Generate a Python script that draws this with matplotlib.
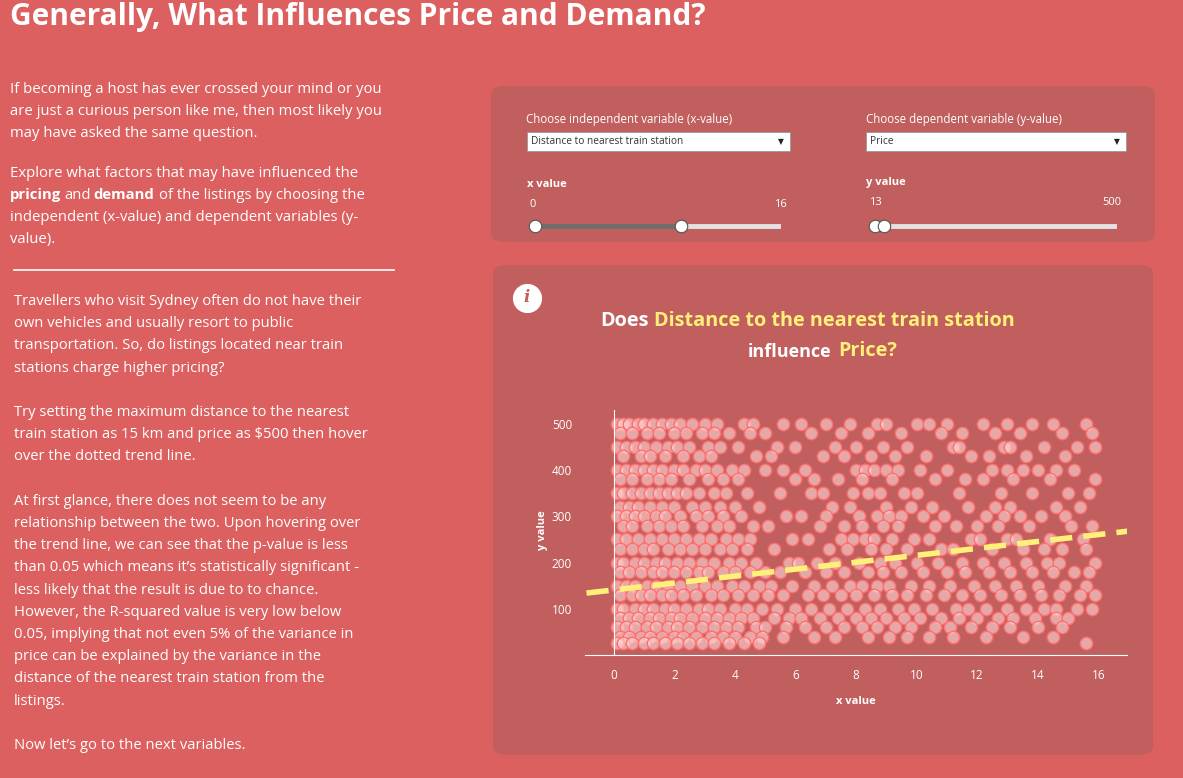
import matplotlib.pyplot as plt
from matplotlib.patches import FancyBboxPatch, Rectangle

plt.rcParams['font.family'] = ['Open Sans', 'DejaVu Sans']

# listings: price level -> distances (km)
price_levels = [500, 480, 450, 430, 400, 380, 350, 320, 300, 280, 250, 230,
                200, 180, 150, 130, 100, 80, 60, 40, 25]
distances = [
    [0.1, 0.3, 0.5, 0.8, 1.0, 1.3, 1.6, 1.9, 2.2, 2.6, 3.0, 3.4, 4.3, 4.6, 5.6, 6.2, 7.0, 7.8, 8.7, 9.0, 10.0, 10.4, 11.0, 12.2, 13.0, 13.8, 14.5, 15.6],
    [0.2, 0.6, 1.1, 1.5, 2.0, 2.4, 2.9, 3.3, 3.8, 4.5, 5.0, 6.5, 7.5, 8.4, 9.5, 10.8, 11.5, 12.6, 13.4, 14.8, 15.8],
    [0.1, 0.4, 0.7, 1.0, 1.4, 1.8, 2.1, 2.5, 3.1, 3.5, 4.1, 5.4, 6.0, 7.3, 8.0, 8.9, 9.7, 11.2, 11.4, 12.9, 13.1, 14.2, 15.3, 15.9],
    [0.3, 0.9, 1.2, 1.7, 2.3, 2.8, 3.2, 4.7, 5.2, 6.9, 7.6, 8.5, 9.3, 10.3, 11.8, 12.4, 13.6, 14.9],
    [0.1, 0.4, 0.7, 1.0, 1.3, 1.6, 2.0, 2.3, 2.7, 3.0, 3.4, 3.9, 4.3, 5.0, 5.6, 6.3, 8.0, 8.3, 8.6, 9.0, 9.4, 10.1, 11.0, 12.5, 13.0, 13.5, 14.0, 14.6, 15.2],
    [0.2, 0.6, 1.1, 1.5, 1.9, 2.5, 3.1, 3.6, 4.1, 6.0, 6.6, 7.4, 8.2, 9.2, 10.6, 11.6, 12.2, 13.2, 14.4, 15.9],
    [0.1, 0.3, 0.6, 0.9, 1.2, 1.5, 1.8, 2.1, 2.4, 2.8, 3.3, 3.7, 4.4, 5.5, 6.5, 6.9, 7.9, 8.4, 8.8, 9.6, 10.0, 11.4, 12.8, 13.8, 15.0, 15.7],
    [0.2, 0.5, 0.8, 1.2, 1.6, 2.0, 2.6, 3.0, 3.5, 4.0, 4.8, 7.2, 7.8, 9.0, 9.8, 10.5, 11.7, 12.6, 13.1, 14.6, 15.4],
    [0.1, 0.4, 0.7, 1.0, 1.4, 1.7, 2.2, 2.7, 3.1, 3.6, 4.2, 5.7, 6.2, 7.0, 8.1, 8.7, 9.1, 9.5, 10.2, 10.9, 12.3, 12.9, 13.4, 14.1, 14.9],
    [0.3, 0.6, 1.1, 1.5, 1.9, 2.3, 2.9, 3.4, 3.8, 4.6, 5.1, 6.8, 7.6, 8.2, 8.9, 9.4, 10.6, 11.3, 12.0, 12.7, 13.7, 15.1, 15.8],
    [0.1, 0.4, 0.8, 1.2, 1.6, 2.0, 2.4, 2.8, 3.2, 3.7, 4.1, 4.5, 5.9, 6.4, 7.5, 7.9, 8.3, 8.6, 9.2, 9.9, 10.4, 11.8, 12.1, 13.0, 13.3, 14.4, 15.5],
    [0.2, 0.6, 1.0, 1.3, 1.8, 2.2, 2.6, 3.0, 3.5, 3.9, 4.4, 5.3, 7.1, 7.7, 8.5, 9.0, 9.7, 10.8, 11.2, 12.5, 13.5, 14.2, 14.8, 15.6],
    [0.1, 0.3, 0.7, 1.0, 1.4, 1.7, 2.1, 2.5, 2.9, 3.3, 3.8, 4.2, 4.7, 5.8, 6.1, 6.7, 7.3, 8.1, 8.8, 9.3, 10.0, 10.7, 11.5, 12.2, 12.9, 13.6, 14.3, 14.7, 15.9],
    [0.2, 0.5, 0.9, 1.3, 1.6, 2.0, 2.4, 2.8, 3.1, 3.6, 4.0, 4.5, 5.0, 5.5, 6.3, 7.0, 7.6, 8.4, 8.9, 9.5, 10.2, 11.0, 11.6, 12.4, 13.1, 13.8, 14.5, 15.2, 15.7],
    [0.1, 0.4, 0.7, 1.1, 1.4, 1.8, 2.2, 2.6, 3.0, 3.4, 3.9, 4.3, 4.8, 5.2, 5.9, 6.6, 7.2, 7.8, 8.2, 8.7, 9.1, 9.8, 10.4, 11.1, 11.9, 12.6, 13.3, 14.0, 14.9, 15.6],
    [0.2, 0.6, 0.9, 1.2, 1.6, 1.9, 2.3, 2.7, 3.2, 3.6, 4.1, 4.6, 5.1, 5.6, 6.4, 6.9, 7.5, 8.0, 8.6, 9.2, 9.7, 10.3, 10.9, 11.5, 12.1, 12.8, 13.4, 14.1, 14.7, 15.4, 15.9],
    [0.1, 0.3, 0.7, 1.0, 1.3, 1.7, 2.0, 2.4, 2.8, 3.1, 3.5, 4.0, 4.4, 4.9, 5.4, 6.0, 6.5, 7.1, 7.7, 8.3, 8.8, 9.4, 9.9, 10.5, 11.3, 11.7, 12.3, 13.0, 13.6, 14.2, 14.6, 15.3, 15.8],
    [0.2, 0.5, 0.8, 1.2, 1.5, 1.9, 2.2, 2.6, 3.0, 3.4, 3.8, 4.2, 4.6, 5.3, 5.8, 6.2, 6.8, 7.4, 8.0, 8.5, 9.0, 9.6, 10.1, 10.8, 11.4, 12.0, 12.7, 13.2, 13.9, 14.6, 15.0],
    [0.1, 0.4, 0.7, 1.1, 1.4, 1.8, 2.1, 2.5, 2.9, 3.3, 3.7, 4.1, 4.7, 5.0, 5.7, 6.3, 7.0, 7.6, 8.2, 8.7, 9.3, 9.8, 10.6, 11.1, 11.8, 12.5, 13.1, 14.0, 14.8],
    [0.2, 0.5, 0.9, 1.2, 1.6, 2.0, 2.3, 2.7, 3.2, 3.6, 4.0, 4.5, 4.9, 5.6, 6.6, 7.3, 8.4, 9.1, 9.7, 10.4, 11.2, 12.3, 13.5, 14.5],
    [0.1, 0.3, 0.6, 1.0, 1.3, 1.7, 2.1, 2.5, 2.9, 3.3, 3.8, 4.3, 4.8, 15.6],
]
x_ticks = [0, 2, 4, 6, 8, 10, 12, 14, 16]
y_ticks = [100, 200, 300, 400, 500]
trend_x = [-0.9, 17.0]
trend_y = [134, 268]

xs, ys = [], []
for p, row in zip(price_levels, distances):
    xs.extend(row)
    ys.extend([p] * len(row))

bg = '#DC605F'
panel = '#C15E5E'
yel = '#FFF07A'
fig = plt.figure(figsize=(11.83, 7.78), dpi=100)
fig.patch.set_facecolor(bg)


def fx(x):
    return x / 1183


def fy(y):
    return 1 - y / 778


def box(x, y, w, h):
    # pixel coords from top-left
    fig.patches.append(FancyBboxPatch((fx(x), fy(y + h)), w / 1183, h / 778,
                                      boxstyle='round,pad=0,rounding_size=0.012',
                                      transform=fig.transFigure, facecolor=panel,
                                      edgecolor='none', zorder=-5))


def t(x, y, s, **kw):
    kw.setdefault('color', 'white')
    return fig.text(fx(x), fy(y), s, va='top', **kw)


box(491, 86, 664, 156)
box(493, 265, 660, 490)

t(10, 2, 'Generally, What Influences Price and Demand?', fontsize=21.5, fontweight='bold')

intro = ['If becoming a host has ever crossed your mind or you',
         'are just a curious person like me, then most likely you',
         'may have asked the same question.']
for i, s in enumerate(intro):
    t(10, 82 + i * 22, s, fontsize=10.7)
t(10, 166, 'Explore what factors that may have influenced the', fontsize=10.7)
t(10, 188, 'pricing', fontsize=10.7, fontweight='bold')
t(64, 188, 'and', fontsize=10.7)
t(93, 188, 'demand', fontsize=10.7, fontweight='bold')
t(159, 188, 'of the listings by choosing the', fontsize=10.7)
t(10, 210, 'independent (x-value) and dependent variables (y-', fontsize=10.7)
t(10, 232, 'value).', fontsize=10.7)
fig.lines.append(plt.Line2D([fx(14), fx(394)], [fy(270)] * 2,
                            transform=fig.transFigure, color='white', lw=1.2))

story = ['Travellers who visit Sydney often do not have their',
         'own vehicles and usually resort to public',
         'transportation. So, do listings located near train',
         'stations charge higher pricing?', '',
         'Try setting the maximum distance to the nearest',
         'train station as 15 km and price as $500 then hover',
         'over the dotted trend line.', '',
         'At first glance, there does not seem to be any',
         'relationship between the two. Upon hovering over',
         'the trend line, we can see that the p-value is less',
         'than 0.05 which means it\u2019s statistically significant -',
         'less likely that the result is due to to chance.',
         'However, the R-squared value is very low below',
         '0.05, implying that not even 5% of the variance in',
         'price can be explained by the variance in the',
         'distance of the nearest train station from the',
         'listings.', '',
         'Now let\u2019s go to the next variables.']
for i, s in enumerate(story):
    t(14, 294 + i * 22.2, s.replace('$', r'\$'), fontsize=10.6)

# controls
t(526, 113, 'Choose independent variable (x-value)', fontsize=8.3)
t(866, 113, 'Choose dependent variable (y-value)', fontsize=8.3)
for x0, w, lab in [(527, 263, 'Distance to nearest train station'), (866, 260, 'Price')]:
    fig.patches.append(Rectangle((fx(x0), fy(151)), w / 1183, 19 / 778,
                                 transform=fig.transFigure, facecolor='white', edgecolor='#999999', lw=0.6))
    fig.text(fx(x0 + 4), fy(141.5), lab, fontsize=7.3, color='#333333', va='center')
    fig.text(fx(x0 + w - 12), fy(141.5), '\u25bc', fontsize=5.5, color='#222222', va='center',
             family='DejaVu Sans')
t(527, 179, 'x value', fontsize=8, fontweight='bold')
t(866, 177, 'y value', fontsize=8, fontweight='bold')
t(530, 199, '0', fontsize=8)
t(774, 199, '16', fontsize=8)
t(869, 197, '13', fontsize=8)
t(1102, 197, '500', fontsize=8)
ly = fy(226)
fig.lines.append(plt.Line2D([fx(533), fx(680)], [ly] * 2, transform=fig.transFigure, color='#6E6E6E', lw=3.5))
fig.lines.append(plt.Line2D([fx(680), fx(778)], [ly] * 2, transform=fig.transFigure, color='#E3E3E3', lw=3.5))
fig.lines.append(plt.Line2D([fx(875), fx(1114)], [ly] * 2, transform=fig.transFigure, color='#E3E3E3', lw=3.5))
for hx in [535, 681, 875, 884]:
    fig.lines.append(plt.Line2D([fx(hx)], [ly], transform=fig.transFigure, marker='o', ms=9,
                                mfc='white', mec='#555555', mew=0.8))

# info icon
fig.lines.append(plt.Line2D([fx(527)], [fy(298)], transform=fig.transFigure, marker='o',
                            ms=20, mfc='white', mec='white'))
fig.text(fx(527), fy(298), 'i', fontsize=12, fontweight='bold', style='italic',
         color=panel, ha='center', va='center', family='DejaVu Serif')

# chart title
t(600, 311, 'Does', fontsize=14.3, fontweight='bold')
t(654, 311, 'Distance to the nearest train station', fontsize=14.3, fontweight='bold', color=yel)
t(748, 343, 'influence', fontsize=13, fontweight='bold')
t(838, 341, 'Price?', fontsize=14.3, fontweight='bold', color=yel)

ax = fig.add_axes([fx(585), fy(655), 542 / 1183, 245 / 778])
ax.set_zorder(2)
ax.set_facecolor(panel)
ax.scatter(xs, ys, s=80, facecolor=(1, 0.85, 0.85, 0.6), edgecolor='#FF7070', linewidth=1.0, zorder=2)
ax.plot(trend_x, trend_y, color=yel, lw=4, ls=(0, (4, 2)), zorder=3)
ax.set_xlim(-0.95, 16.95)
ax.set_ylim(0, 530)
ax.set_xticks(x_ticks)
ax.set_yticks(y_ticks)
for s in ['top', 'right']:
    ax.spines[s].set_visible(False)
ax.spines['left'].set_position(('data', 0))
for s in ['left', 'bottom']:
    ax.spines[s].set_color('white')
ax.tick_params(length=0, colors='white', labelsize=8.5, pad=10)
ax.tick_params(axis='y', pad=30)
ax.set_xlabel('x value', color='white', fontsize=8, fontweight='bold', labelpad=10)
fig.text(fx(543), fy(530), 'y value', color='white', fontsize=8, fontweight='bold',
         rotation=90, ha='center', va='center')

fig.savefig('out.png', dpi=100, facecolor=bg)
